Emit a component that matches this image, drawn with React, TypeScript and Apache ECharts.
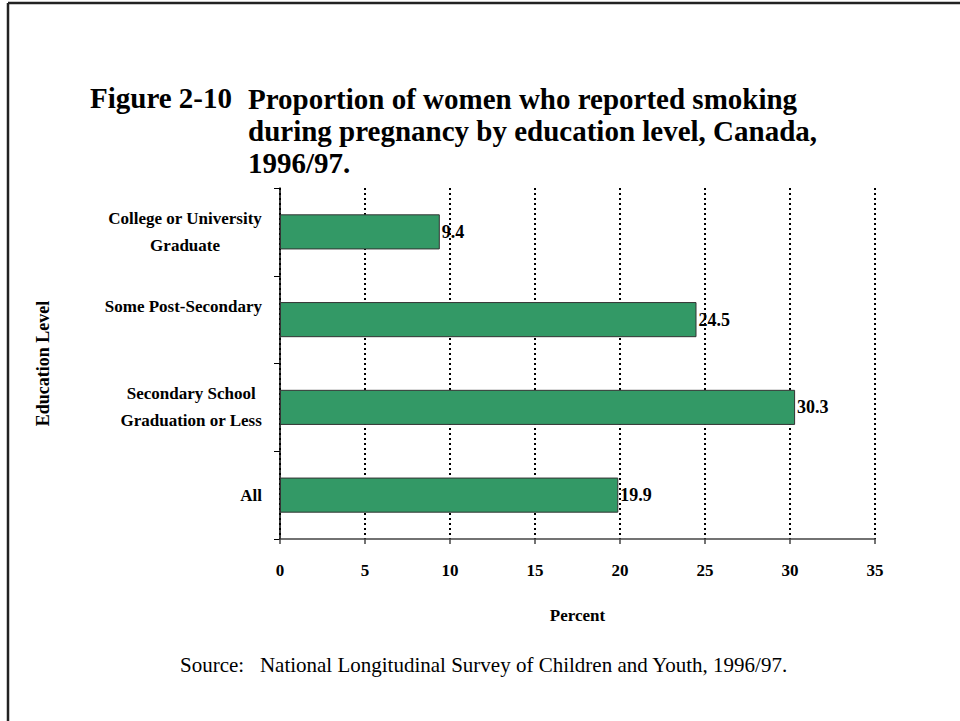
import React, { useEffect, useRef } from "react";
import * as echarts from "echarts";

const categories = [
  "College or University\nGraduate",
  "Some Post-Secondary\n ",
  "Secondary School\nGraduation or Less",
  "All",
];
const values = [9.4, 24.5, 30.3, 19.9];
const xTicks = { min: 0, max: 35, interval: 5 };

const titleLead = "Figure 2-10";
const titleText = "Proportion of women who reported smoking\nduring pregnancy by education level, Canada,\n1996/97.";
const sourceText = "Source:   National Longitudinal Survey of Children and Youth, 1996/97.";
const xName = "Percent";
const yName = "Education Level";

const FONT = '"Liberation Serif", "Times New Roman", serif';

export default function App() {
  const ref = useRef<HTMLDivElement>(null);
  useEffect(() => {
    if (!ref.current) return;
    const chart = echarts.init(ref.current, undefined, { renderer: "svg" });
    chart.setOption({
      animation: false,
      backgroundColor: "#ffffff",
      textStyle: { fontFamily: FONT },
      grid: { left: 280, right: 85, top: 188, bottom: 182, containLabel: false },
      xAxis: {
        type: "value",
        min: xTicks.min,
        max: xTicks.max,
        interval: xTicks.interval,
        name: xName,
        nameLocation: "middle",
        nameGap: 68,
        nameTextStyle: { fontFamily: FONT, fontWeight: "bold", fontSize: 17, color: "#000" },
        axisLine: { show: true, lineStyle: { color: "#444", width: 1.5 } },
        axisTick: { show: true, length: 5, lineStyle: { color: "#444", width: 1.5 } },
        axisLabel: { margin: 23, fontFamily: FONT, fontWeight: "bold", fontSize: 17, color: "#000" },
        splitLine: { show: true, lineStyle: { color: "#000", width: 2, type: [2, 3] } },
      },
      yAxis: {
        type: "category",
        data: categories,
        inverse: true,
        name: yName,
        nameLocation: "middle",
        nameGap: 228,
        nameRotate: 90,
        nameTextStyle: { fontFamily: FONT, fontWeight: "bold", fontSize: 18, color: "#000" },
        axisLine: { show: true, lineStyle: { color: "#000", width: 1.5 } },
        axisTick: { show: true, length: 6, lineStyle: { color: "#000", width: 1 } },
        axisLabel: {
          margin: 18,
          color: "#000",
          fontFamily: FONT,
          fontWeight: "bold",
          fontSize: 17,
          lineHeight: 27,
          formatter: (v: string) =>
            v.split("\n").map((s) => `{c|${s}}`).join("\n"),
          rich: {
            c: { align: "center", fontFamily: FONT, fontWeight: "bold", fontSize: 17, lineHeight: 27, color: "#000" },
          },
        },
        splitLine: { show: false },
      },
      series: [
        {
          type: "bar",
          data: values,
          barWidth: "40%",
          itemStyle: { color: "#339966", borderColor: "#333", borderWidth: 1 },
          label: {
            show: true,
            position: "right",
            distance: 2,
            fontFamily: FONT,
            fontWeight: "bold",
            fontSize: 18,
            color: "#000",
          },
        },
      ],
      graphic: [
        { type: "line", shape: { x1: 8, y1: 3, x2: 8, y2: 721 }, style: { stroke: "#222", lineWidth: 2.5 } },
        { type: "line", shape: { x1: 8, y1: 3, x2: 960, y2: 3 }, style: { stroke: "#222", lineWidth: 2.5 } },
        {
          type: "text",
          left: 90,
          top: 83,
          style: { text: titleLead, fontFamily: FONT, fontWeight: "bold", fontSize: 29, fill: "#000" },
        },
        {
          type: "text",
          left: 248,
          top: 83,
          style: { text: titleText, fontFamily: FONT, fontWeight: "bold", fontSize: 29, lineHeight: 32, fill: "#000" },
        },
        {
          type: "text",
          left: 180,
          top: 654,
          style: { text: sourceText, fontFamily: FONT, fontSize: 21, fill: "#000" },
        },
      ],
    });
    return () => chart.dispose();
  }, []);
  return (
    <div
      ref={ref}
      style={{ position: "fixed", left: 0, top: 0, width: 960, height: 721, background: "#fff" }}
    />
  );
}
